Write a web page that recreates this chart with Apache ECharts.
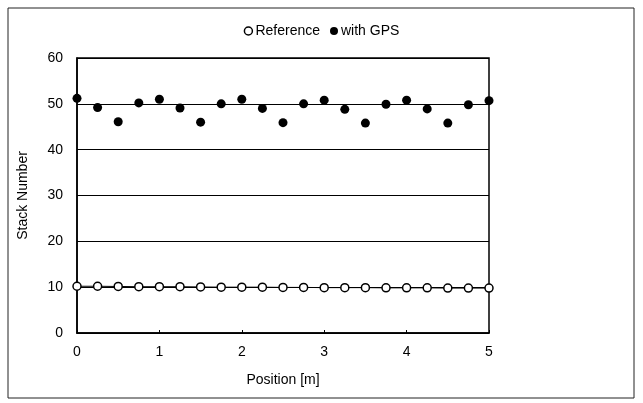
<!DOCTYPE html>
<html><head><meta charset="utf-8">
<script src="https://cdn.jsdelivr.net/npm/echarts@6/dist/echarts.min.js"></script>
<style>html,body{margin:0;padding:0;background:#fff}#c{width:643px;height:403px}</style>
</head><body><div id="c"></div>
<script>
const positions = [0,0.25,0.5,0.75,1,1.25,1.5,1.75,2,2.25,2.5,2.75,3,3.25,3.5,3.75,4,4.25,4.5,4.75,5];
const referenceVals = [10.2,10.2,10.15,10.1,10.1,10.1,10.05,10.0,10.0,10.0,9.95,9.95,9.9,9.9,9.9,9.85,9.85,9.85,9.8,9.8,9.8];
const gpsVals = [51.2,49.2,46.1,50.2,51.0,49.1,46.0,50.0,51.0,49.0,45.9,50.0,50.8,48.8,45.8,49.9,50.8,48.9,45.8,49.8,50.7];
const yTicks = [0,10,20,30,40,50,60];
const xTicks = [0,1,2,3,4,5];

const chart = echarts.init(document.getElementById('c'));
const font = 'Liberation Sans, Arial, sans-serif';
chart.setOption({
  animation:false,
  backgroundColor:'#fff',
  textStyle:{fontFamily:font,color:'#000'},
  graphic:[{type:'rect',shape:{x:8,y:8,width:626,height:390},style:{fill:'none',stroke:'#222',lineWidth:1}}],
  legend:{top:19,left:'center',itemGap:10,itemWidth:8,itemHeight:8,
    textStyle:{fontFamily:font,fontSize:14,color:'#000',padding:[0,0,0,-2]},
    data:[{name:'Reference',icon:'circle',itemStyle:{color:'#fff',borderColor:'#000',borderWidth:1.5}},
          {name:'with GPS',icon:'circle',itemStyle:{color:'#000'}}]},
  grid:{left:77,right:154,top:58,bottom:70,show:true,borderColor:'#000',borderWidth:1.5,backgroundColor:'#fff'},
  xAxis:{type:'value',min:xTicks[0],max:xTicks[xTicks.length-1],interval:1,
    name:'Position [m]',nameLocation:'middle',nameGap:40,
    nameTextStyle:{fontFamily:font,fontSize:14,color:'#000'},
    axisLine:{lineStyle:{color:'#000',width:1.5}},
    axisTick:{inside:true,length:3,lineStyle:{color:'#000'}},
    axisLabel:{fontFamily:font,fontSize:14,color:'#000',margin:12},
    splitLine:{show:false}},
  yAxis:{type:'value',min:yTicks[0],max:yTicks[yTicks.length-1],interval:10,
    name:'Stack Number',nameLocation:'middle',nameGap:47,
    nameTextStyle:{fontFamily:font,fontSize:14,color:'#000'},
    axisLine:{show:true,lineStyle:{color:'#000',width:1.5}},
    axisTick:{show:false},
    axisLabel:{fontFamily:font,fontSize:14,color:'#000',margin:14},
    splitLine:{show:true,lineStyle:{color:'#000',width:1}}},
  series:[
    {name:'Reference',type:'line',data:positions.map((x,i)=>[x,referenceVals[i]]),
     symbol:'circle',symbolSize:8,lineStyle:{color:'#000',width:1},
     itemStyle:{color:'#fff',borderColor:'#000',borderWidth:1.5}},
    {name:'with GPS',type:'scatter',data:positions.map((x,i)=>[x,gpsVals[i]]),
     symbol:'circle',symbolSize:9,itemStyle:{color:'#000',opacity:1}}
  ]
});
</script></body></html>
